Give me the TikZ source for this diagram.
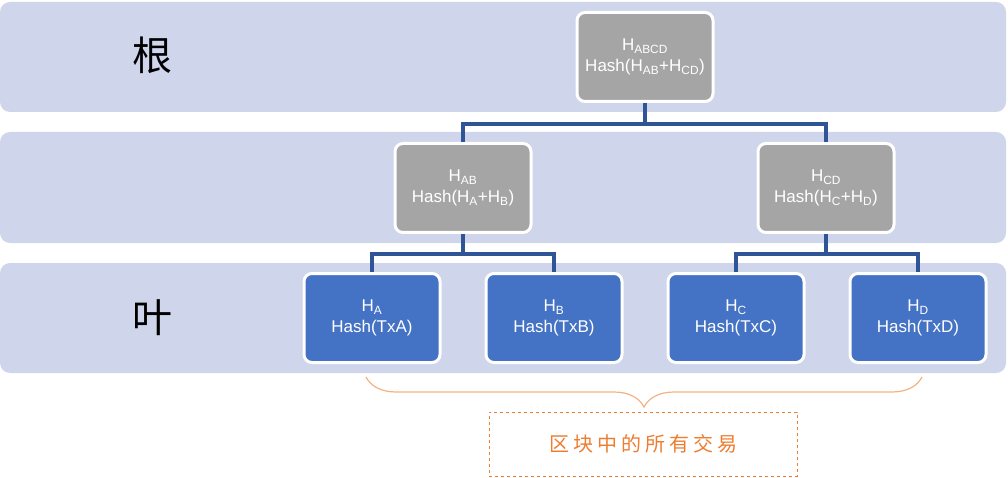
\documentclass[tikz,border=0pt]{standalone}
\usepackage{fontspec}
\setmainfont{Liberation Sans}
\newfontfamily\cjk{Noto Sans CJK SC}
\newfontfamily\cjkspaced[LetterSpace=20]{Noto Sans CJK SC}
\usepackage[]{xcolor}
\usepackage{tikz}
\usetikzlibrary{decorations.pathreplacing}

\definecolor{bandcol}{HTML}{CFD5EA}
\definecolor{graycol}{HTML}{A5A5A5}
\definecolor{bluecol}{HTML}{4472C4}
\definecolor{linkcol}{HTML}{2F5597}
\definecolor{orangecol}{HTML}{ED7D31}
\definecolor{bracecol}{HTML}{F4B183}

\tikzset{
  band/.style = {fill=bandcol, rounded corners=10pt},
  hashbox/.style = {rectangle, rounded corners=8pt, draw=white, line width=3pt,
    minimum width=136pt, minimum height=89pt, text=white, align=center,
    font=\fontsize{17}{21}\selectfont},
  inner/.style = {hashbox, fill=graycol},
  leaf/.style = {hashbox, fill=bluecol},
  link/.style = {draw=linkcol, line width=3.5pt},
  lvl/.style = {font=\cjk\fontsize{40}{44}\selectfont}
}

\begin{document}
\begin{tikzpicture}[x=1pt,y=-1pt]
        \useasboundingbox (0,0) rectangle (1008,478);
        \fill[band] (0,2)   rectangle (1006,112);
        \fill[band] (0,132) rectangle (1006,243);
        \fill[band] (0,263) rectangle (1006,373);
        \node[lvl] (rootlvl) at (152,55)  {根};
        \node[lvl] (leaflvl) at (152,318) {叶};
        \node[inner] (habcd) at (645,57)  {H\textsubscript{ABCD}\\Hash(H\textsubscript{AB}+H\textsubscript{CD})};
        \node[inner] (hab)   at (463,188) {H\textsubscript{AB}\\Hash(H\textsubscript{A}+H\textsubscript{B})};
        \node[inner] (hcd)   at (826,188) {H\textsubscript{CD}\\Hash(H\textsubscript{C}+H\textsubscript{D})};
        \node[leaf] (ha) at (372,318) {H\textsubscript{A}\\Hash(TxA)};
        \node[leaf] (hb) at (554,318) {H\textsubscript{B}\\Hash(TxB)};
        \node[leaf] (hc) at (736,318) {H\textsubscript{C}\\Hash(TxC)};
        \node[leaf] (hd) at (918,318) {H\textsubscript{D}\\Hash(TxD)};
        \draw[link] (habcd.south) -- ++(0,21) -| (hab.north);
        \draw[link] (habcd.south) -- ++(0,21) -| (hcd.north);
        \draw[link] (hab.south) -- ++(0,20) -| (ha.north);
        \draw[link] (hab.south) -- ++(0,20) -| (hb.north);
        \draw[link] (hcd.south) -- ++(0,20) -| (hc.north);
        \draw[link] (hcd.south) -- ++(0,20) -| (hd.north);
        \coordinate (bl) at (366,377);
        \coordinate (br) at (922,377);
        \draw[bracecol, line width=1.2pt, decorate, decoration={brace, mirror, amplitude=30pt}] (bl) -- (br);
        \node[draw=orangecol, dashed, line width=0.9pt, minimum width=308pt, minimum height=64pt,
              text=orangecol, font=\cjkspaced\fontsize{20}{24}\selectfont] (txs) at (643,444) {区块中的所有交易};
\end{tikzpicture}
\end{document}
